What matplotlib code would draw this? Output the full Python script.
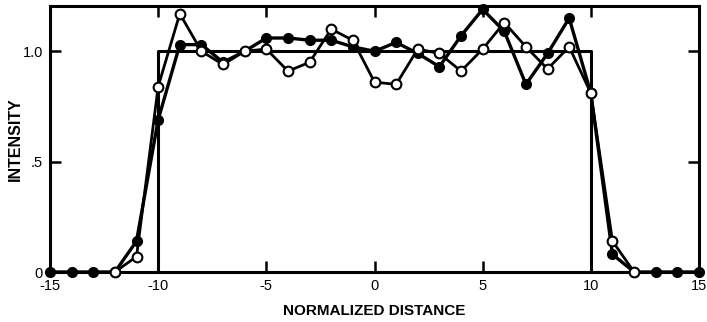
import numpy as np
import matplotlib
matplotlib.use("Agg")
import matplotlib.pyplot as plt

# values
x_filled = list(range(-15, 16))
y_filled = [0, 0, 0, 0, 0.14, 0.69, 1.03, 1.03, 0.95, 1.00,
            1.06, 1.06, 1.05, 1.05, 1.02, 1.00, 1.04, 0.99, 0.93, 1.07,
            1.19, 1.09, 0.85, 0.99, 1.15, 0.81, 0.08, 0, 0, 0, 0]

x_open = list(range(-12, 13))
y_open = [0, 0.07, 0.84, 1.17, 1.00, 0.94, 1.00, 1.01, 0.91, 0.95,
          1.10, 1.05, 0.86, 0.85, 1.01, 0.99, 0.91, 1.01, 1.13, 1.02,
          0.92, 1.02, 0.81, 0.14, 0]

rect_x = [-15, -10, -10, 10, 10, 15]
rect_y = [0, 0, 1.0, 1.0, 0, 0]

xticks = [-15, -10, -5, 0, 5, 10, 15]
xticklabels = ['-15', '-10', '-5', '0', '5', '10', '15']
yticks = [0, 0.5, 1.0]
yticklabels = ['0', '.5', '1.0']

plt.rcParams['font.family'] = ['Liberation Sans', 'DejaVu Sans']

fig = plt.figure(figsize=(7.07, 3.22), dpi=100)
ax = fig.add_axes([50 / 707, 50 / 322, 649 / 707, 266 / 322])

ax.plot(rect_x, rect_y, color='black', lw=2.2, zorder=1)
ax.plot(x_filled, y_filled, color='black', lw=2.4, marker='o', ms=7,
        mfc='black', mec='black', clip_on=False, zorder=3)
ax.plot(x_open, y_open, color='black', lw=2.0, marker='o', ms=7,
        mfc='white', mec='black', mew=1.5, clip_on=False, zorder=4)

ax.set_xlim(-15, 15)
ax.set_ylim(0, 1.205)
ax.set_xticks(xticks)
ax.set_xticklabels(xticklabels)
ax.set_yticks(yticks)
ax.set_yticklabels(yticklabels)
ax.tick_params(direction='in', length=8, width=1.8, labelsize=10.5,
               top=True, right=True, pad=5)

for s in ax.spines.values():
    s.set_linewidth(2.2)

ax.set_xlabel('NORMALIZED DISTANCE', fontsize=11, fontweight='bold')
ax.set_ylabel('INTENSITY', fontsize=11.5, fontweight='bold')
ax.xaxis.set_label_coords(0.5, -32 / 266)
ax.yaxis.set_label_coords(-27 / 649, 0.5)

fig.savefig('out.png', dpi=100)
